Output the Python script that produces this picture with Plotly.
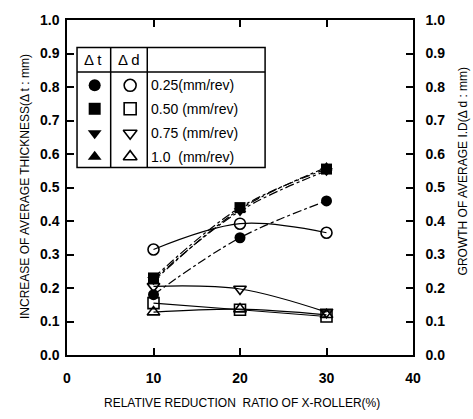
import plotly.graph_objects as go

x_vals = [10, 20, 30]
feeds = ["0.25(mm/rev)", "0.50 (mm/rev)", "0.75 (mm/rev)", "1.0  (mm/rev)"]

# increase of average thickness (Δt, filled markers)
dt_025 = [0.18, 0.35, 0.46]
dt_050 = [0.23, 0.44, 0.555]
dt_075 = [0.225, 0.43, 0.55]
dt_100 = [0.22, 0.435, 0.56]

# growth of average I.D (Δd, open markers)
dd_025 = [0.315, 0.392, 0.365]
dd_050 = [0.155, 0.135, 0.115]
dd_075 = [0.205, 0.197, 0.128]
dd_100 = [0.128, 0.137, 0.12]

y_ticks = [0.0, 0.1, 0.2, 0.3, 0.4, 0.5, 0.6, 0.7, 0.8, 0.9, 1.0]
x_ticks = [0, 10, 20, 30, 40]

filled = ["circle", "square", "triangle-down", "triangle-up"]
opened = ["circle-open", "square-open", "triangle-down-open", "triangle-up-open"]

fig = go.Figure()
for ys, sym in zip([dt_025, dt_050, dt_075, dt_100], filled):
    fig.add_trace(go.Scatter(x=x_vals, y=ys, mode="lines+markers",
                             line=dict(color="black", width=1.2, dash="dashdot", shape="spline"),
                             marker=dict(symbol=sym, size=11, color="black"),
                             showlegend=False))
for ys, sym in zip([dd_025, dd_050, dd_075, dd_100], opened):
    fig.add_trace(go.Scatter(x=x_vals, y=ys, mode="lines+markers", yaxis="y2",
                             line=dict(color="black", width=1.2, shape="spline"),
                             marker=dict(symbol=sym, size=11, color="black", line=dict(width=1.6)),
                             showlegend=False))

# legend table
lx0, lx1, lx2, lx3 = 1.16, 5.05, 9.28, 22.9
ly_top, ly_head, ly_bot = 0.918, 0.845, 0.56
row_y = [0.805, 0.735, 0.662, 0.592]
shapes = [
    dict(type="rect", xref="x", yref="y", x0=lx0, x1=lx3, y0=ly_bot, y1=ly_top,
         line=dict(color="black", width=1.5), fillcolor="white", layer="below"),
    dict(type="line", xref="x", yref="y", x0=lx0, x1=lx3, y0=ly_head, y1=ly_head,
         line=dict(color="black", width=1.5)),
    dict(type="line", xref="x", yref="y", x0=lx1, x1=lx1, y0=ly_bot, y1=ly_top,
         line=dict(color="black", width=1.5)),
    dict(type="line", xref="x", yref="y", x0=lx2, x1=lx2, y0=ly_bot, y1=ly_top,
         line=dict(color="black", width=1.5)),
]
fig.add_trace(go.Scatter(x=[3.2] * 4, y=row_y, mode="markers", cliponaxis=False,
                         marker=dict(symbol=filled, size=12, color="black"), showlegend=False))
fig.add_trace(go.Scatter(x=[7.3] * 4, y=row_y, mode="markers", cliponaxis=False,
                         marker=dict(symbol=opened, size=12, color="black", line=dict(width=1.6)),
                         showlegend=False))

font = "Liberation Sans, Arial, sans-serif"
ann = [
    dict(x=3.0, y=0.882, xref="x", yref="y", text="Δ t", showarrow=False,
         font=dict(size=15, family=font, color="black")),
    dict(x=7.2, y=0.882, xref="x", yref="y", text="Δ d", showarrow=False,
         font=dict(size=15, family=font, color="black")),
]
for fy, lab in zip(row_y, feeds):
    ann.append(dict(x=9.5, y=fy, xref="x", yref="y", text=lab, showarrow=False, xanchor="left",
                    font=dict(size=14, family=font, color="black")))
ann += [
    dict(x=25, y=183, xref="paper", yref="paper", text="INCREASE OF AVERAGE THICKNESS(Δ t : mm)",
         textangle=-90, showarrow=False, font=dict(size=12, family=font, color="black")),
    dict(x=463, y=167, xref="paper", yref="paper", text="GROWTH OF AVERAGE I.D(Δ d : mm)",
         textangle=-90, showarrow=False, font=dict(size=12, family=font, color="black")),
    dict(x=242, y=404, xref="paper", yref="paper", text="RELATIVE REDUCTION  RATIO OF X-ROLLER(%)",
         showarrow=False, font=dict(size=12, family=font, color="black")),
]
# convert pixel-positioned annotations to paper coords
L, R, T, B = 67, 60, 12, 64
pw, ph = 473 - L - R, 419 - T - B
for a in ann:
    if a["xref"] == "paper":
        a["x"] = (a["x"] - L) / pw
        a["y"] = (419 - B - a["y"]) / ph
        a["xanchor"] = "center"
        a["yanchor"] = "middle"

axis_common = dict(showline=True, linecolor="black", linewidth=1.5, ticks="inside",
                   ticklen=7, tickcolor="black", tickwidth=1.5, showgrid=False, zeroline=False,
                   tickfont=dict(size=14, family=font, color="black", weight="bold"))
fig.update_layout(
    width=473, height=419, margin=dict(l=L, r=R, t=T, b=B),
    paper_bgcolor="white", plot_bgcolor="white",
    xaxis=dict(range=[0, 40], tickvals=x_ticks, mirror="ticks", ticklabelstandoff=9, **axis_common),
    yaxis=dict(range=[0, 1], tickvals=y_ticks, tickformat=".1f", ticklabelstandoff=3, **axis_common),
    yaxis2=dict(range=[0, 1], tickvals=y_ticks, tickformat=".1f", overlaying="y", side="right",
                ticklabelstandoff=8, **axis_common),
    shapes=shapes, annotations=ann, showlegend=False,
)
fig.write_html("out.html")
